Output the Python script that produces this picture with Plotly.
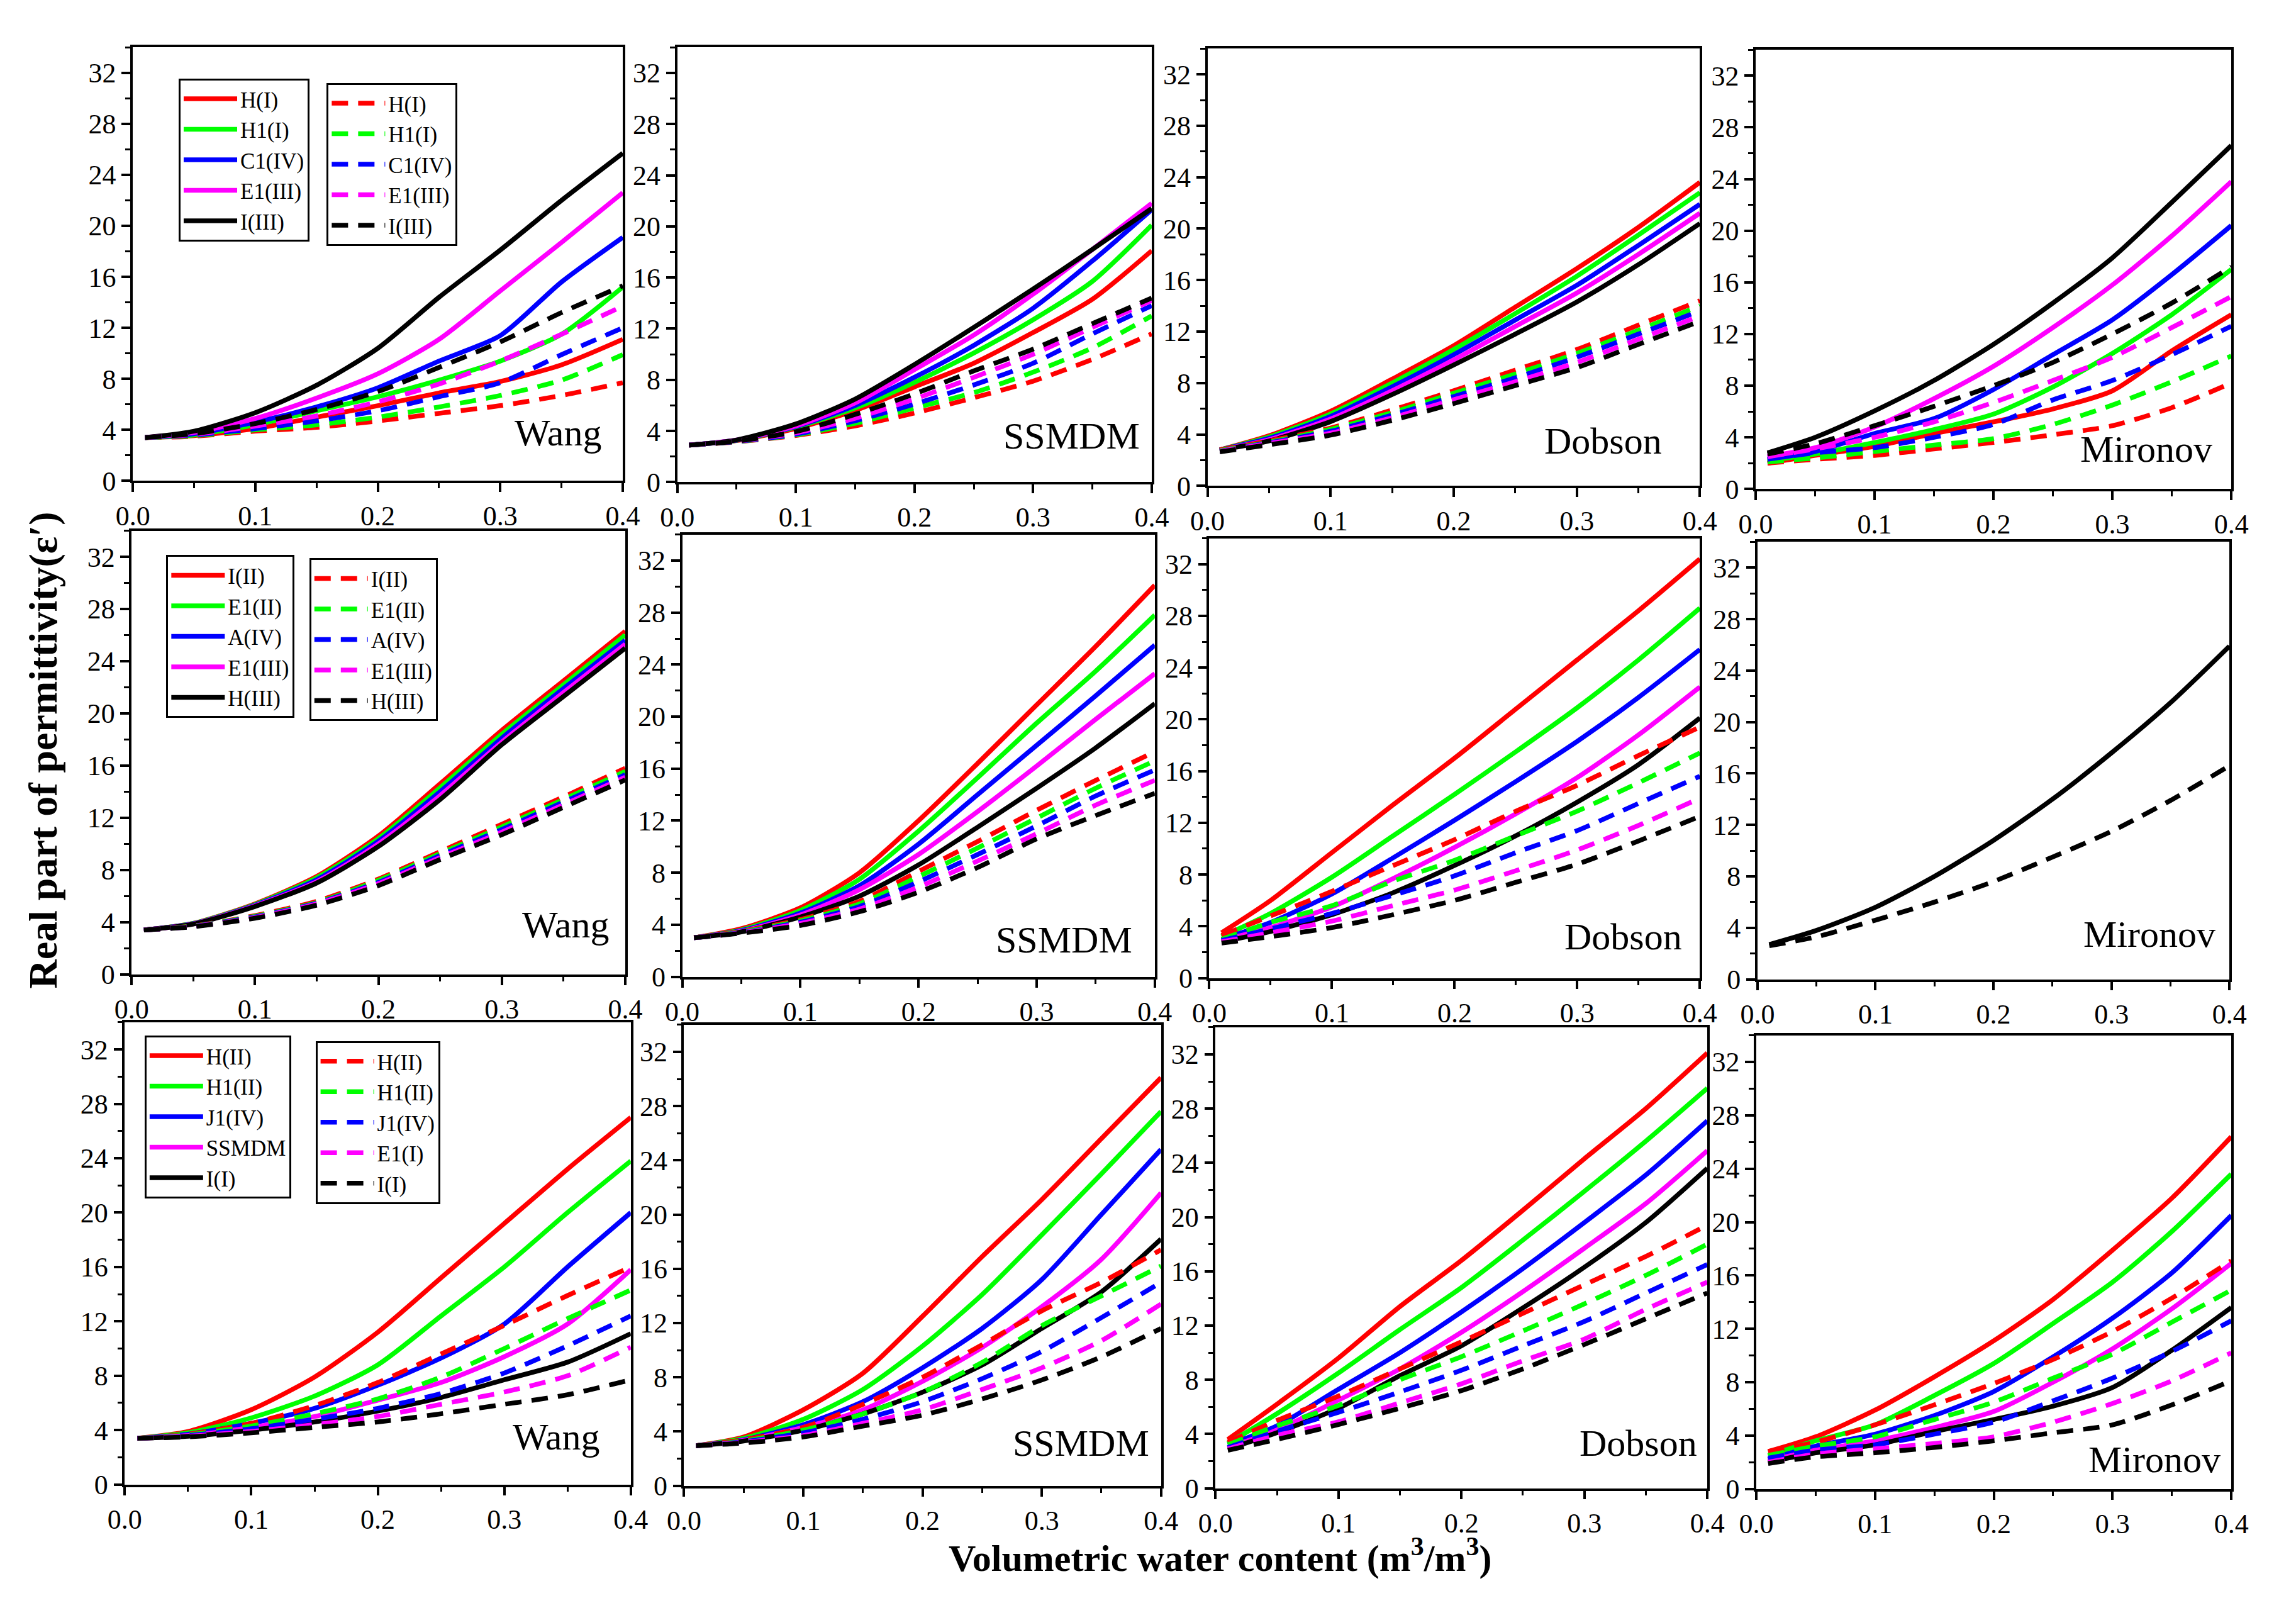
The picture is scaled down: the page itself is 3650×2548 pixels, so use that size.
import plotly.graph_objects as go

# ---------------- data ----------------
X = [0.01, 0.05, 0.10, 0.15, 0.20, 0.25, 0.30, 0.35, 0.40]
COLORS = ["#FF0000", "#00FF00", "#0000FF", "#FF00FF", "#000000"]

# row 1 legend names
names_r1_solid = ["H(I)", "H1(I)", "C1(IV)", "E1(III)", "I(III)"]
names_r1_dash = ["H(I)", "H1(I)", "C1(IV)", "E1(III)", "I(III)"]
# row 2 legend names
names_r2_solid = ["I(II)", "E1(II)", "A(IV)", "E1(III)", "H(III)"]
names_r2_dash = ["I(II)", "E1(II)", "A(IV)", "E1(III)", "H(III)"]
# row 3 legend names
names_r3_solid = ["H(II)", "H1(II)", "J1(IV)", "SSMDM", "I(I)"]
names_r3_dash = ["H(II)", "H1(II)", "J1(IV)", "E1(I)", "I(I)"]

# Row 1
wang1_solid = [
    [3.4, 3.55, 4.1, 5.0, 5.9, 6.9, 7.8, 9.1, 11.1],
    [3.4, 3.6, 4.4, 5.5, 6.6, 7.9, 9.4, 11.5, 15.2],
    [3.4, 3.7, 4.6, 5.8, 7.3, 9.4, 11.4, 15.6, 19.1],
    [3.4, 3.8, 4.9, 6.5, 8.4, 11.1, 14.9, 18.7, 22.6],
    [3.4, 3.9, 5.35, 7.5, 10.4, 14.4, 18.1, 22.0, 25.7],
]
wang1_dash = [
    [3.4, 3.5, 3.9, 4.2, 4.7, 5.3, 5.9, 6.7, 7.7],
    [3.4, 3.55, 4.0, 4.4, 5.0, 5.8, 6.7, 7.9, 9.9],
    [3.4, 3.6, 4.1, 4.7, 5.5, 6.6, 7.7, 9.9, 12.0],
    [3.4, 3.65, 4.3, 5.1, 6.2, 7.6, 9.4, 11.5, 13.7],
    [3.4, 3.7, 4.5, 5.6, 7.0, 8.9, 10.9, 13.2, 15.3],
]
ssmdm1_solid = [
    [2.9, 3.25, 4.2, 5.6, 7.45, 9.3, 11.7, 14.3, 18.1],
    [2.9, 3.27, 4.3, 5.8, 7.8, 10.1, 12.7, 15.7, 20.1],
    [2.9, 3.28, 4.35, 6.0, 8.2, 10.7, 13.6, 17.3, 21.3],
    [2.9, 3.3, 4.4, 6.2, 8.8, 11.5, 14.7, 18.2, 21.8],
    [2.9, 3.3, 4.55, 6.5, 9.2, 12.1, 15.1, 18.2, 21.4],
]
ssmdm1_dash = [
    [2.9, 3.15, 3.65, 4.4, 5.4, 6.6, 7.9, 9.6, 11.6],
    [2.9, 3.17, 3.7, 4.6, 5.8, 7.0, 8.6, 10.5, 13.0],
    [2.9, 3.18, 3.75, 4.8, 6.1, 7.6, 9.3, 11.6, 13.8],
    [2.9, 3.2, 3.85, 5.0, 6.5, 8.2, 10.0, 12.1, 14.2],
    [2.9, 3.2, 3.95, 5.3, 6.9, 8.7, 10.4, 12.4, 14.4],
]
dobson1_solid = [
    [2.8, 3.9, 5.8, 8.3, 10.9, 13.9, 16.9, 20.1, 23.6],
    [2.8, 3.8, 5.6, 8.0, 10.6, 13.4, 16.3, 19.5, 22.8],
    [2.8, 3.7, 5.4, 7.7, 10.2, 12.9, 15.6, 18.7, 21.9],
    [2.8, 3.6, 5.2, 7.4, 9.8, 12.4, 15.0, 18.0, 21.2],
    [2.8, 3.5, 5.0, 7.1, 9.4, 11.8, 14.3, 17.2, 20.4],
]
dobson1_dash = [
    [2.8, 3.5, 4.5, 5.9, 7.4, 9.0, 10.6, 12.5, 14.4],
    [2.75, 3.4, 4.4, 5.7, 7.2, 8.7, 10.3, 12.1, 14.0],
    [2.7, 3.35, 4.25, 5.5, 6.95, 8.4, 10.0, 11.8, 13.6],
    [2.7, 3.3, 4.1, 5.3, 6.7, 8.1, 9.6, 11.4, 13.2],
    [2.65, 3.2, 3.95, 5.1, 6.4, 7.8, 9.2, 11.0, 12.8],
]
mironov1_solid = [
    [2.0, 2.6, 3.3, 4.3, 5.2, 6.2, 7.6, 10.7, 13.5],
    [2.2, 2.7, 3.6, 4.6, 5.8, 7.9, 10.5, 13.5, 17.0],
    [2.3, 2.9, 4.3, 5.45, 7.7, 10.4, 13.1, 16.6, 20.4],
    [2.5, 3.2, 4.8, 7.0, 9.5, 12.5, 15.8, 19.6, 23.8],
    [2.8, 4.0, 6.05, 8.4, 11.2, 14.4, 17.9, 22.2, 26.6],
]
mironov1_dash = [
    [2.0, 2.3, 2.6, 3.1, 3.6, 4.2, 4.9, 6.3, 8.2],
    [2.1, 2.4, 2.9, 3.4, 3.9, 5.0, 6.5, 8.3, 10.3],
    [2.3, 2.8, 3.2, 4.0, 5.0, 6.9, 8.4, 10.4, 12.6],
    [2.5, 3.1, 4.0, 5.2, 6.7, 8.4, 10.2, 12.5, 14.9],
    [2.7, 3.5, 4.9, 6.4, 8.0, 9.8, 12.0, 14.4, 17.2],
]

# Row 2
wang2_solid = [
    [3.4, 3.9, 5.4, 7.5, 10.6, 14.6, 18.7, 22.5, 26.3],
    [3.4, 3.9, 5.35, 7.4, 10.4, 14.3, 18.4, 22.2, 26.0],
    [3.4, 3.88, 5.3, 7.25, 10.2, 14.0, 18.1, 21.9, 25.6],
    [3.4, 3.86, 5.25, 7.1, 10.0, 13.7, 17.8, 21.6, 25.3],
    [3.4, 3.85, 5.2, 7.0, 9.8, 13.4, 17.6, 21.3, 25.0],
]
wang2_dash = [
    [3.4, 3.7, 4.5, 5.6, 7.3, 9.4, 11.5, 13.6, 15.8],
    [3.4, 3.7, 4.45, 5.5, 7.2, 9.25, 11.3, 13.4, 15.55],
    [3.4, 3.68, 4.4, 5.45, 7.05, 9.1, 11.1, 13.2, 15.3],
    [3.4, 3.67, 4.35, 5.4, 6.95, 8.95, 10.9, 13.0, 15.1],
    [3.4, 3.65, 4.3, 5.3, 6.8, 8.8, 10.7, 12.8, 14.9],
]
ssmdm2_solid = [
    [3.0, 3.7, 5.3, 8.0, 12.0, 16.4, 20.9, 25.4, 30.1],
    [3.0, 3.6, 5.1, 7.5, 11.2, 15.3, 19.5, 23.5, 27.8],
    [3.0, 3.55, 4.9, 7.0, 10.2, 14.0, 17.8, 21.6, 25.5],
    [3.0, 3.5, 4.75, 6.7, 9.4, 12.7, 16.2, 19.8, 23.3],
    [3.0, 3.45, 4.6, 6.2, 8.6, 11.5, 14.5, 17.6, 21.0],
]
ssmdm2_dash = [
    [3.0, 3.5, 4.4, 5.8, 8.1, 10.4, 12.8, 15.1, 17.3],
    [3.0, 3.45, 4.3, 5.6, 7.7, 9.9, 12.2, 14.5, 16.6],
    [3.0, 3.4, 4.2, 5.4, 7.3, 9.4, 11.6, 13.9, 15.9],
    [3.0, 3.38, 4.1, 5.2, 6.9, 8.9, 11.0, 13.2, 15.1],
    [3.0, 3.35, 3.95, 5.0, 6.5, 8.4, 10.6, 12.4, 14.1],
]
dobson2_solid = [
    [3.5, 6.0, 9.7, 13.4, 17.0, 20.8, 24.6, 28.4, 32.4],
    [3.2, 5.0, 7.8, 11.0, 14.2, 17.5, 20.9, 24.6, 28.6],
    [3.0, 4.3, 6.5, 9.3, 12.2, 15.2, 18.3, 21.7, 25.4],
    [2.9, 3.9, 5.5, 7.7, 10.1, 12.7, 15.5, 18.8, 22.5],
    [2.8, 3.6, 4.9, 6.6, 8.7, 11.0, 13.6, 16.5, 20.1],
]
dobson2_dash = [
    [3.3, 4.8, 6.7, 8.7, 10.7, 12.9, 14.9, 17.2, 19.4],
    [3.0, 4.3, 5.6, 7.5, 9.1, 11.0, 12.9, 15.1, 17.4],
    [2.9, 3.8, 5.0, 6.4, 7.9, 9.7, 11.4, 13.5, 15.6],
    [2.8, 3.5, 4.4, 5.6, 6.8, 8.3, 9.9, 11.8, 13.9],
    [2.7, 3.2, 3.9, 4.9, 6.0, 7.4, 8.8, 10.6, 12.5],
]
# Mironov, row 2: all samples coincide, only the black curves are visible
mironov2_solid = [None, None, None, None,
                  [2.7, 3.8, 5.6, 8.0, 10.8, 14.0, 17.6, 21.5, 25.9]]
mironov2_dash = [None, None, None, None,
                 [2.6, 3.3, 4.6, 6.0, 7.6, 9.5, 11.5, 13.9, 16.6]]

# Row 3
wang3_solid = [
    [3.4, 3.9, 5.5, 7.9, 11.2, 15.2, 19.2, 23.2, 27.0],
    [3.4, 3.8, 4.9, 6.5, 8.8, 12.4, 16.0, 20.0, 23.8],
    [3.4, 3.7, 4.5, 5.6, 7.3, 9.3, 11.8, 16.0, 20.0],
    [3.4, 3.6, 4.2, 5.0, 6.2, 7.5, 9.4, 11.8, 15.8],
    [3.4, 3.55, 4.0, 4.6, 5.4, 6.4, 7.7, 9.0, 11.1],
]
wang3_dash = [
    [3.4, 3.7, 4.5, 5.8, 7.5, 9.6, 11.7, 13.9, 16.0],
    [3.4, 3.65, 4.3, 5.2, 6.3, 7.9, 10.0, 12.2, 14.3],
    [3.4, 3.6, 4.1, 4.8, 5.6, 6.7, 8.2, 10.2, 12.4],
    [3.4, 3.55, 3.9, 4.4, 5.0, 5.9, 6.8, 8.0, 10.1],
    [3.4, 3.5, 3.8, 4.2, 4.6, 5.2, 5.9, 6.6, 7.7],
]
ssmdm3_solid = [
    [2.95, 3.6, 5.6, 8.3, 12.5, 16.9, 21.1, 25.6, 30.1],
    [2.95, 3.5, 4.9, 7.1, 10.3, 14.1, 18.5, 23.0, 27.6],
    [2.95, 3.4, 4.5, 6.2, 8.7, 11.6, 15.2, 20.0, 24.8],
    [2.95, 3.35, 4.3, 5.6, 7.7, 10.2, 13.2, 16.7, 21.6],
    [2.95, 3.3, 4.1, 5.3, 6.9, 8.9, 11.6, 14.3, 18.2],
]
ssmdm3_dash = [
    [2.95, 3.4, 4.3, 6.0, 8.0, 10.4, 12.9, 15.0, 17.4],
    [2.95, 3.3, 4.1, 5.3, 6.9, 9.1, 11.8, 14.0, 16.2],
    [2.95, 3.25, 3.9, 4.9, 6.2, 7.9, 9.9, 12.4, 15.0],
    [2.95, 3.2, 3.7, 4.6, 5.6, 7.1, 8.7, 10.7, 13.4],
    [2.95, 3.15, 3.6, 4.4, 5.2, 6.4, 7.8, 9.5, 11.6],
]
dobson3_solid = [
    [3.6, 6.2, 9.6, 13.4, 16.8, 20.5, 24.3, 28.0, 32.1],
    [3.3, 5.5, 8.5, 11.7, 14.8, 18.3, 21.9, 25.6, 29.5],
    [3.2, 4.6, 7.3, 10.0, 13.0, 16.2, 19.6, 23.1, 27.1],
    [3.0, 4.3, 6.5, 8.8, 11.5, 14.5, 17.7, 21.0, 24.9],
    [2.9, 4.1, 5.9, 8.3, 10.5, 13.3, 16.3, 19.6, 23.6],
]
dobson3_dash = [
    [3.4, 5.0, 6.8, 8.8, 10.8, 12.9, 15.0, 17.1, 19.4],
    [3.2, 4.6, 6.1, 8.0, 9.7, 11.6, 13.6, 15.7, 18.0],
    [3.0, 4.2, 5.6, 7.1, 8.7, 10.5, 12.3, 14.4, 16.5],
    [2.9, 3.9, 4.9, 6.3, 7.7, 9.4, 11.0, 13.2, 15.2],
    [2.8, 3.6, 4.7, 5.9, 7.2, 8.8, 10.6, 12.5, 14.4],
]
mironov3_solid = [
    [2.8, 3.9, 5.9, 8.4, 11.1, 14.2, 17.9, 21.8, 26.4],
    [2.5, 3.6, 4.8, 7.0, 9.4, 12.4, 15.5, 19.3, 23.6],
    [2.2, 3.2, 4.1, 5.5, 7.3, 9.9, 12.8, 16.2, 20.5],
    [2.1, 2.9, 3.6, 4.6, 5.8, 8.0, 10.5, 13.5, 16.9],
    [2.0, 2.7, 3.3, 4.3, 5.2, 6.2, 7.6, 10.4, 13.6],
]
mironov3_dash = [
    [2.8, 3.5, 4.8, 6.3, 7.9, 9.7, 11.8, 14.3, 17.1],
    [2.5, 3.2, 3.9, 5.2, 6.5, 8.3, 10.1, 12.5, 14.9],
    [2.3, 2.9, 3.3, 4.1, 5.0, 6.6, 8.3, 10.3, 12.6],
    [2.0, 2.6, 3.0, 3.4, 3.9, 5.0, 6.4, 8.1, 10.2],
    [1.9, 2.4, 2.7, 3.1, 3.6, 4.2, 4.8, 6.3, 8.1],
]

MODEL_LABELS = ["Wang", "SSMDM", "Dobson", "Mironov"]
X_TICKS = [0.0, 0.1, 0.2, 0.3, 0.4]
Y_TICKS = [0, 4, 8, 12, 16, 20, 24, 28, 32]

ROWS = [
    [(wang1_solid, wang1_dash), (ssmdm1_solid, ssmdm1_dash),
     (dobson1_solid, dobson1_dash), (mironov1_solid, mironov1_dash)],
    [(wang2_solid, wang2_dash), (ssmdm2_solid, ssmdm2_dash),
     (dobson2_solid, dobson2_dash), (mironov2_solid, mironov2_dash)],
    [(wang3_solid, wang3_dash), (ssmdm3_solid, ssmdm3_dash),
     (dobson3_solid, dobson3_dash), (mironov3_solid, mironov3_dash)],
]
ROW_NAMES = [(names_r1_solid, names_r1_dash),
             (names_r2_solid, names_r2_dash),
             (names_r3_solid, names_r3_dash)]

# ---------------- layout geometry (pixels) ----------------
W, H = 3650, 2548
# left, right, top, bottom of each plot area
BOXES = [
    [(186, 977, 76, 772), (1065, 1831, 76, 774), (1921, 2716, 78, 780), (2806, 3574, 80, 785)],
    [(184, 981, 852, 1564), (1073, 1836, 858, 1568), (1924, 2716, 864, 1570), (2809, 3571, 870, 1572)],
    [(173, 990, 1641, 2383), (1076, 1846, 1645, 2385), (1934, 2728, 1649, 2389), (2807, 3574, 1662, 2390)],
]
# model label: gap from right edge, baseline height above bottom
LABEL_POS = [
    [(33, 57), (17, 54), (59, 52), (29, 44)],
    [(24, 59), (34, 39), (27, 46), (21, 52)],
    [(49, 56), (17, 48), (14, 52), (15, 27)],
]
# legend boxes top-left (solid, dash) per row
LEGEND_POS = [
    [(260, 126), (499, 133)],
    [(240, 891), (471, 896)],
    [(205, 1662), (481, 1671)],
]

FONT = "Liberation Serif"
LW = 7.5
TICK_FONT = 44

fig = go.Figure()
layout = dict(
    width=W, height=H, autosize=False,
    margin=dict(l=0, r=0, t=0, b=0),
    paper_bgcolor="white", plot_bgcolor="white",
    font=dict(family=FONT, color="black", size=TICK_FONT),
    annotations=[],
)


def px_x(p):
    return p / W


def px_y(p):
    return 1 - p / H


k = 0
for r, row in enumerate(ROWS):
    leg_solid = "legend" if r == 0 else f"legend{2 * r + 1}"
    leg_dash = f"legend{2 * r + 2}"
    names_solid, names_dash = ROW_NAMES[r]
    for c, (solid, dash) in enumerate(row):
        k += 1
        xa, ya = f"x{k}", f"y{k}"
        for i, vals in enumerate(solid):
            if vals is None:
                continue
            fig.add_trace(go.Scatter(
                x=X, y=vals, xaxis=xa, yaxis=ya, mode="lines",
                line=dict(color=COLORS[i], width=LW, shape="spline", smoothing=0.7),
                name=names_solid[i], showlegend=(c == 0), legend=leg_solid,
                hoverinfo="skip"))
        for i, vals in enumerate(dash):
            if vals is None:
                continue
            fig.add_trace(go.Scatter(
                x=X, y=vals, xaxis=xa, yaxis=ya, mode="lines",
                line=dict(color=COLORS[i], width=LW, shape="spline", smoothing=0.7,
                          dash="26px,16px"),
                name=names_dash[i], showlegend=(c == 0), legend=leg_dash,
                hoverinfo="skip"))

        left, right, top, bottom = BOXES[r][c]
        xdom = [px_x(left), px_x(right)]
        ydom = [px_y(bottom), px_y(top)]
        common = dict(showgrid=False, zeroline=False, color="black")
        layout[f"xaxis{k}"] = dict(
            domain=xdom, anchor=ya, range=[0, 0.4], tickvals=X_TICKS,
            tickformat=".1f", ticks="outside", ticklen=14, tickwidth=3.5,
            showline=True, linewidth=3.5, linecolor="black", mirror=True,
            tickfont=dict(size=TICK_FONT, family=FONT),
            minor=dict(ticks="outside", ticklen=8, tickwidth=3, dtick=0.05, tick0=0),
            **common)
        layout[f"yaxis{k}"] = dict(
            domain=ydom, anchor=xa, range=[0, 34], tickvals=Y_TICKS,
            ticks="outside", ticklen=14, tickwidth=3.5,
            showline=True, linewidth=3.5, linecolor="black", mirror=True,
            tickfont=dict(size=TICK_FONT, family=FONT),
            minor=dict(ticks="outside", ticklen=8, tickwidth=3, dtick=2, tick0=0),
            **common)
        # mirrored inward ticks on top and right
        layout[f"xaxis{k + 12}"] = dict(
            overlaying=xa, side="top", anchor=ya, range=[0, 0.4], tickvals=X_TICKS,
            ticks="inside", ticklen=12, tickwidth=3.5, showticklabels=False,
            showline=False,
            minor=dict(ticks="inside", ticklen=7, tickwidth=3, dtick=0.05, tick0=0),
            **common)
        layout[f"yaxis{k + 12}"] = dict(
            overlaying=ya, side="right", anchor=xa, range=[0, 34], tickvals=Y_TICKS,
            ticks="inside", ticklen=12, tickwidth=3.5, showticklabels=False,
            showline=False,
            minor=dict(ticks="inside", ticklen=7, tickwidth=3, dtick=2, tick0=0),
            **common)

        gap, base = LABEL_POS[r][c]
        layout["annotations"].append(dict(
            text=MODEL_LABELS[c], xref="paper", yref="paper",
            x=px_x(right - gap), y=px_y(bottom - base + 15),
            xanchor="right", yanchor="bottom", showarrow=False,
            font=dict(size=60, family=FONT, color="black")))

    # legends for this row
    for j, lid in enumerate([leg_solid, leg_dash]):
        lx, ly = LEGEND_POS[r][j]
        layout[lid] = dict(
            x=px_x(lx), y=px_y(ly), xanchor="left", yanchor="top",
            bgcolor="white", bordercolor="black", borderwidth=3,
            font=dict(size=35, family=FONT, color="black"),
            tracegroupgap=0, itemwidth=85, traceorder="normal")

layout["annotations"].append(dict(
    text="<b>Real part of permittivity(ε′)</b>", xref="paper", yref="paper",
    x=px_x(41), y=px_y(1204), xanchor="center", yanchor="middle",
    textangle=-90, showarrow=False,
    font=dict(size=64, family=FONT, color="black")))
layout["annotations"].append(dict(
    text="<b>Volumetric water content (m<sup>3</sup>/m<sup>3</sup>)</b>",
    xref="paper", yref="paper",
    x=px_x(1941), y=px_y(2497), xanchor="center", yanchor="middle",
    showarrow=False, font=dict(size=60, family=FONT, color="black")))

fig.update_layout(**layout)
fig.write_html("out.html", config={"displayModeBar": False},
               post_script="document.body.style.margin='0px';")
